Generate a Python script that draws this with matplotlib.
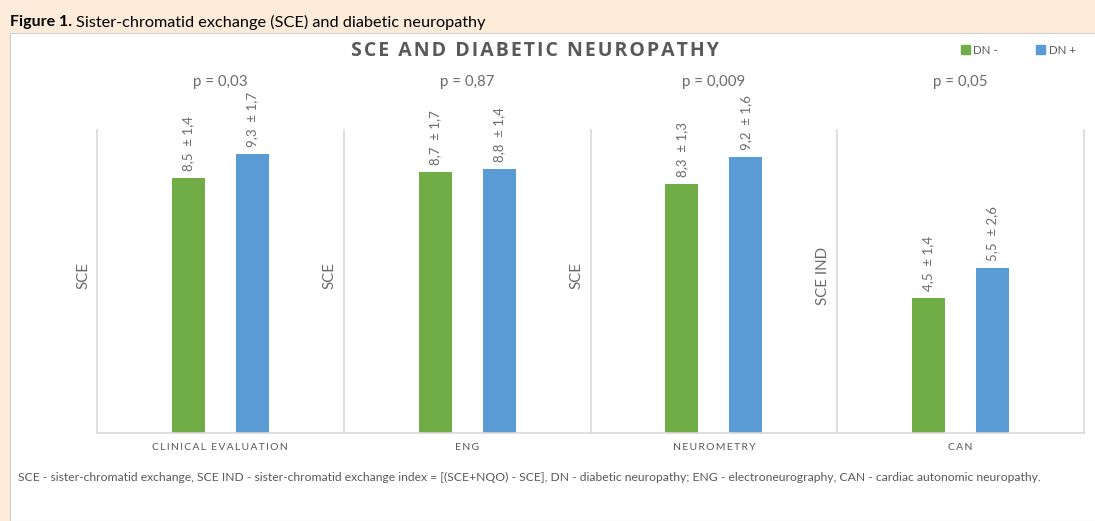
import matplotlib
matplotlib.use("Agg")
import matplotlib.pyplot as plt
from matplotlib.patches import Rectangle, Patch

# data
groups = ["CLINICAL EVALUATION", "ENG", "NEUROMETRY", "CAN"]
ylabels = ["SCE", "SCE", "SCE", "SCE IND"]
dn_minus = [8.5, 8.7, 8.3, 4.5]
dn_plus = [9.3, 8.8, 9.2, 5.5]
sd_minus = ["1,4", "1,7", "1,3", "1,4"]
sd_plus = ["1,7", "1,4", "1,6", "2,6"]
pvals = ["p = 0,03", "p = 0,87", "p = 0,009", "p = 0,05"]

GREEN = "#70AD47"
BLUE = "#5B9BD5"
GREY = "#595959"
LINE = "#D9D9D9"

plt.rcParams["font.family"] = ["Lato", "DejaVu Sans"]

W, H = 1095, 521
fig = plt.figure(figsize=(W / 100, H / 100), dpi=100, facecolor="#FCEBD9")

# white panel behind the chart
fig.patches.append(Rectangle((10 / W, 0), 1, (H - 33) / H, transform=fig.transFigure,
                             facecolor="white", edgecolor="#CFCFCF", lw=0.8, zorder=-5))

# header line: bold part then regular part
t1 = fig.text(10 / W, 1 - 22 / H, "Figure 1.", fontsize=11.5, fontweight="bold",
              va="center", ha="left")
r = fig.canvas.get_renderer()
bb = t1.get_window_extent(r)
fig.text((bb.x1 + 4) / W, 1 - 22 / H, "Sister-chromatid exchange (SCE) and diabetic neuropathy",
         fontsize=11.7, va="center", ha="left")

def spaced(s, sp="\u200a"):
    return sp.join(list(s))

fig.text(535 / W, 1 - 51 / H, spaced("SCE AND DIABETIC NEUROPATHY"), fontsize=14,
         fontweight="bold", color=GREY, ha="center", va="center", family=["Open Sans", "DejaVu Sans"])

left0, right0 = 97, 1084
top, bottom = 130, 433
pw = (right0 - left0) / 4
ymax = (bottom - top) / 30.0
bw = 33 / pw
off = 32 / pw

for i in range(4):
    ax = fig.add_axes([(left0 + i * pw) / W, (H - bottom) / H, pw / W, (bottom - top) / H])
    ax.set_facecolor("none")
    ax.bar([-off], [dn_minus[i]], width=bw, color=GREEN)
    ax.bar([off], [dn_plus[i]], width=bw, color=BLUE)
    ax.set_xlim(-0.5, 0.5)
    ax.set_ylim(0, ymax)
    ax.set_xticks([])
    ax.set_yticks([])
    for s in ["top", "right"]:
        ax.spines[s].set_visible(False)
    if i == 3:
        ax.spines["right"].set_visible(True)
    for s in ["left", "bottom", "right"]:
        ax.spines[s].set_color(LINE)
        ax.spines[s].set_linewidth(1.2)
    for x, v, sd in [(-off, dn_minus[i], sd_minus[i]), (off, dn_plus[i], sd_plus[i])]:
        ax.annotate(f"{v:.1f}".replace(".", ",") + "  \u00b1 " + sd, (x, v), xytext=(0, 5),
                    textcoords="offset points", rotation=90, ha="center", va="bottom",
                    fontsize=9.5, color="#6b6b6b")
    ax.text(0.5, 1 + 48 / (bottom - top), pvals[i], transform=ax.transAxes, ha="center",
            va="center", fontsize=10.8, color="#6b6b6b")
    ax.text(0.5, -15 / (bottom - top), spaced(groups[i], "\u2009"), transform=ax.transAxes,
            ha="center", va="center", fontsize=7.5, color=GREY)
    ax.text(-14 / pw, 0.52, ylabels[i], transform=ax.transAxes, rotation=90, ha="center",
            va="center", fontsize=10.8, color="#6b6b6b", clip_on=False)

handles = [Patch(color=GREEN, label="DN -"), Patch(color=BLUE, label="DN +")]
fig.legend(handles=handles, loc="center right", bbox_to_anchor=(1086 / W, 1 - 50 / H), ncol=2,
           frameon=False, fontsize=8.3, handlelength=0.8, handleheight=0.8, handletextpad=0.3,
           columnspacing=3.3, labelcolor=GREY)

fig.text(18 / W, 1 - 477 / H,
         "SCE - sister-chromatid exchange, SCE IND - sister-chromatid exchange index = [(SCE+NQO) - SCE], "
         "DN - diabetic neuropathy; ENG - electroneurography, CAN - cardiac autonomic neuropathy.",
         fontsize=8.75, color=GREY, ha="left", va="center")

fig.savefig("out.png", dpi=100, facecolor=fig.get_facecolor())
